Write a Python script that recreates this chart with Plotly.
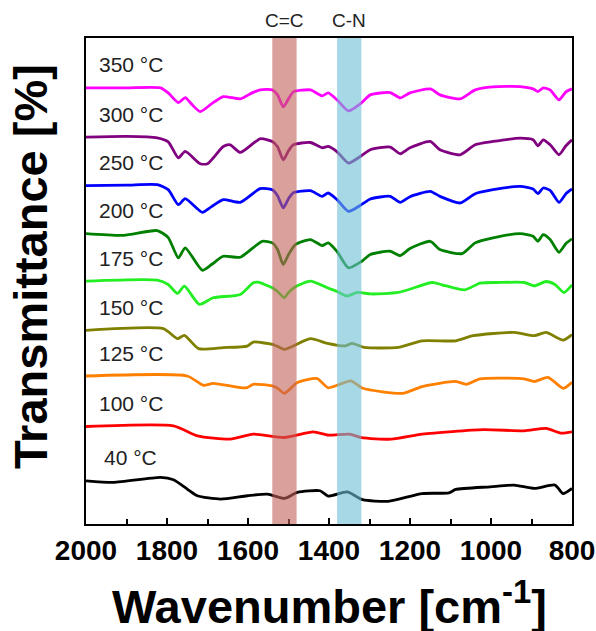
import plotly.graph_objects as go

# ---- data (y in arbitrary transmittance units, offset stacked) ----
labels = ["350 °C", "300 °C", "250 °C", "200 °C", "175 °C", "150 °C", "125 °C", "100 °C", "40 °C"]
colors = ["#ff00ff", "#800080", "#0000ff", "#008000", "#22ee22", "#808000", "#ff8000", "#ff0000", "#000000"]

wn_350 = [2000,1900,1816,1797,1772,1755,1740,1718,1690,1661,1619,1590,1570,1540,1527,1513,1500,1488,1446,1417,1402,1380,1352,1320,1298,1249,1224,1200,1150,1126,1076,1039,995,928,896,884,871,854,832,815,800]
t_350 = [437,437,437,432,422.3,427.3,421,413.3,421,428.3,426,432,435,435,430,418,426,433,435,429,432,425,414,422,430,432.3,427,432,436,430,426,435,438,438.3,436,433.3,437,435,425,433,436]

wn_300 = [2000,1900,1824,1797,1772,1755,1718,1700,1661,1644,1619,1570,1540,1527,1513,1500,1488,1446,1417,1402,1380,1352,1320,1298,1249,1224,1200,1150,1126,1076,1039,995,928,896,884,871,854,832,815,800]
t_300 = [387.7,388.5,387,383,367,373.3,361,361,378.3,380,372.3,386,383.3,378,365,374,380,382.3,377,378.3,373,361.7,369,375,377.7,371,377,383.3,375,370,380,383.3,386.7,385,379,385,380,370,379,385]

wn_250 = [2000,1900,1824,1797,1772,1755,1713,1690,1661,1619,1570,1540,1527,1513,1500,1488,1446,1417,1402,1380,1352,1320,1298,1249,1224,1200,1150,1126,1076,1039,995,928,896,884,871,854,832,815,800]
t_250 = [339,339.5,340,335,320,326,312.3,318,325,322.3,336,335,329,316.7,326,332,334,328.3,331.7,325,313.3,320,325.7,328.3,322.3,328,333.3,328.3,321.7,331,335,338.3,335.7,331,336.7,334.3,322.3,331,335.7]

wn_200 = [2000,1907,1824,1797,1772,1755,1713,1690,1661,1619,1565,1540,1527,1513,1500,1483,1446,1417,1402,1380,1352,1320,1298,1249,1224,1200,1150,1126,1071,1039,995,928,896,884,871,854,832,815,800]
t_200 = [291,289.3,294,287,266.7,276.7,254.3,260,268.3,267.3,283.3,281.7,275,260,270,280,285,279,281.7,273,256.7,263,270,273.3,269,276,283.3,275,271,281.7,286.7,291,288.3,283.3,290,285,272.3,281,285.7]

wn_175 = [2000,1824,1797,1774,1757,1720,1686,1619,1587,1575,1540,1527,1510,1500,1483,1446,1404,1380,1355,1330,1296,1229,1145,1121,1065,1027,985,918,893,864,842,820,800]
t_175 = [243.3,244.3,240,231,238.3,220,226.7,230,241.7,242.3,236.7,233,226.7,232,237.7,243.3,236.7,233,228.5,232,230.5,232,242,239.7,234.6,241.4,242,242,238.7,243,240,232,239.7]

wn_150 = [2000,1809,1774,1757,1722,1661,1602,1587,1540,1527,1510,1446,1404,1359,1343,1313,1229,1170,1087,1044,943,893,864,822,800]
t_150 = [194,195.7,185.7,189,175.7,176.7,178.3,182.3,180,178,175,185.7,181,178.5,181,177,177,183.6,183.6,188.7,192,188.7,192,184.3,189.7]

wn_125 = [2000,1750,1710,1686,1619,1602,1587,1540,1527,1510,1478,1429,1402,1346,1317,1217,1170,1087,1061,1027,918,893,859,822,800]
t_125 = [148.3,148.3,139,141,136.7,136.7,140,138.3,136,131,141.7,145.7,136.5,143.4,136,131,137.7,142.8,140,145.5,145.5,142.8,147,136,142]

wn_100 = [2000,1784,1725,1644,1587,1510,1439,1402,1350,1320,1246,1170,1019,918,864,826,800]
t_100 = [97.7,98.3,88.3,85,90,86.7,92.3,89,90,86.6,85,90,94.5,93.4,95.8,91,92.4]

wn_40 = [2000,1932,1816,1784,1750,1725,1668,1602,1552,1510,1478,1422,1402,1355,1317,1254,1170,1104,1087,1002,943,893,842,822,800]
t_40 = [43.3,41.7,46.7,44.3,35,28.3,25,28.3,30,25.7,31.7,33.3,28,32.2,24.4,22.7,30.5,31.2,34.6,37.3,39,35.6,39,30.5,35.6]

wavenumbers = [wn_350, wn_300, wn_250, wn_200, wn_175, wn_150, wn_125, wn_100, wn_40]
transmittance = [t_350, t_300, t_250, t_200, t_175, t_150, t_125, t_100, t_40]

band_labels = ["C=C", "C-N"]
band_ranges = [(1540, 1480), (1380, 1320)]
band_colors = ["rgba(193,97,90,0.6)", "rgba(107,190,212,0.6)"]

x_ticks = [2000, 1800, 1600, 1400, 1200, 1000, 800]

FONT = "Arial, Liberation Sans, sans-serif"

# ---- figure ----
fig = go.Figure()
for wn, t, c, lab in zip(wavenumbers, transmittance, colors, labels):
    fig.add_trace(go.Scatter(x=wn, y=t, mode="lines", name=lab,
                             line=dict(color=c, width=2.8, shape="spline", smoothing=0.6),
                             showlegend=False, hoverinfo="skip"))

for (x0, x1), bc, bl in zip(band_ranges, band_colors, band_labels):
    fig.add_shape(type="rect", xref="x", yref="paper", x0=x0, x1=x1, y0=0, y1=1,
                  fillcolor=bc, line=dict(width=0), layer="above")
    fig.add_annotation(x=(x0 + x1) / 2, xref="x", y=1, yref="paper", yshift=18,
                       text=bl, showarrow=False, xanchor="center", yanchor="middle",
                       font=dict(family=FONT, size=19, color="#222"))

for wn, t, lab in zip(wavenumbers, transmittance, labels):
    fig.add_annotation(x=1972 if lab != "40 °C" else 1960, xref="x", y=t[0] + 23, yref="y",
                       text=lab, showarrow=False, xanchor="left", yanchor="middle",
                       font=dict(family=FONT, size=21, color="#222"))

# axis titles
fig.add_annotation(x=0.5, xref="paper", y=0, yref="paper", yshift=-79,
                   text="Wavenumber [cm<sup>-1</sup>]", showarrow=False,
                   xanchor="center", yanchor="middle",
                   font=dict(family=FONT, size=47, color="black", weight="bold"))
fig.add_annotation(x=0, xref="paper", xshift=-56, y=0.5, yref="paper", yshift=14,
                   text="Transmittance [%]", showarrow=False, textangle=-90,
                   xanchor="center", yanchor="middle",
                   font=dict(family=FONT, size=47, color="black", weight="bold"))

fig.update_xaxes(range=[2000, 800], tickvals=x_ticks, ticks="inside", ticklen=6, tickwidth=1.5,
                 tickcolor="black", showline=True, linecolor="black", linewidth=2, mirror=True,
                 showgrid=False, zeroline=False, automargin=False,
                 minor=dict(dtick=100, ticks="inside", ticklen=5, tickwidth=1.5, tickcolor="black", showgrid=False),
                 tickfont=dict(family=FONT, size=28, color="black", weight="bold"))
fig.update_yaxes(range=[0, 487], showticklabels=False, ticks="", showline=True, linecolor="black",
                 linewidth=2, mirror=True, showgrid=False, zeroline=False, automargin=False)

fig.update_layout(width=596, height=631, margin=dict(l=86, r=24, t=38, b=107, autoexpand=False),
                  plot_bgcolor="white", paper_bgcolor="white")

fig.write_html("out.html", config={"displayModeBar": False},
               post_script="document.body.style.margin='0px';document.body.style.overflow='hidden';")
